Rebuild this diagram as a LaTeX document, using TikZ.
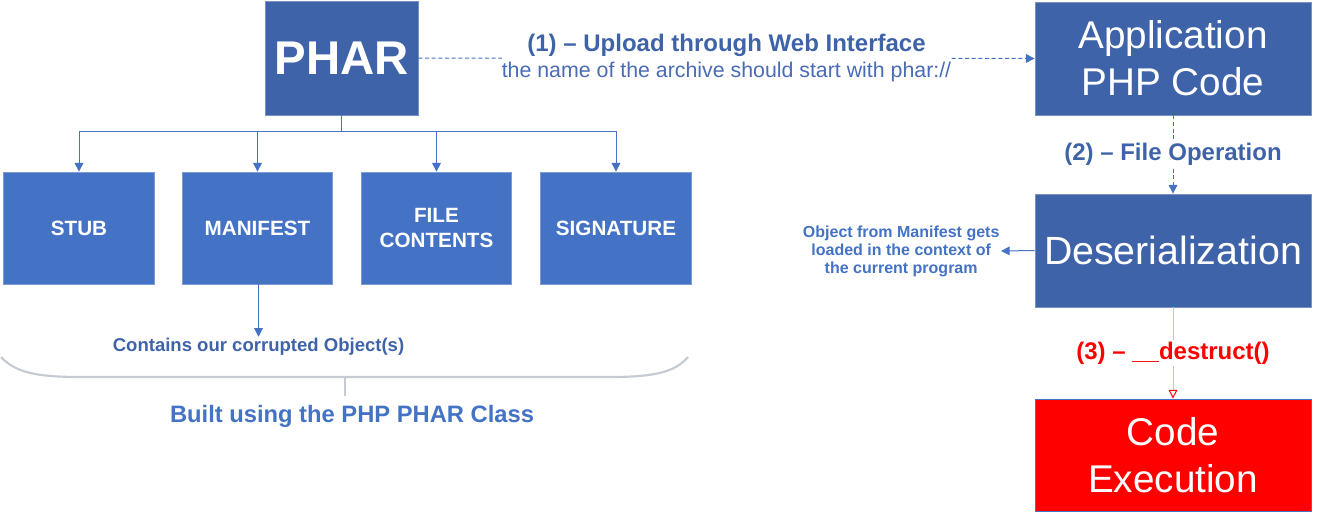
\documentclass[tikz,border=0pt]{standalone}
\usepackage{fontspec}
\setmainfont{Liberation Sans}
\usetikzlibrary{arrows.meta}
\definecolor{dkblue}{HTML}{3F63A8}
\definecolor{ltblue}{HTML}{4472C4}
\definecolor{txtblue}{HTML}{4A6CB5}
\definecolor{pinkline}{HTML}{F0B4B4}
\definecolor{bracegray}{HTML}{C6CAD2}
\definecolor{codered}{HTML}{FF0000}
\begin{document}
\begin{tikzpicture}[x=0.75pt,y=-0.75pt,
  bigbox/.style={fill=dkblue, draw=dkblue!70!white, line width=0.6pt, text=white, align=center, inner sep=0pt},
  partbox/.style={fill=ltblue, draw=ltblue!70!white, line width=0.6pt, text=white, align=center, inner sep=0pt,
    minimum width=113pt, minimum height=84pt, font=\bfseries\fontsize{15.5}{19}\selectfont},
  tip/.style={-{Triangle[width=6.5pt,length=6.5pt]}},
  conn/.style={draw=ltblue, line width=0.75pt},
  lbl/.style={align=center, inner sep=1pt}]
\useasboundingbox (0,0) rectangle (1327,521);

% main boxes
\node[bigbox, minimum width=114.75pt, minimum height=85.5pt, font=\bfseries\fontsize{35.5}{40}\selectfont] (phar) at (341.5,58) {PHAR};
\node[bigbox, minimum width=207pt, minimum height=84.75pt, font=\fontsize{29}{35}\selectfont] (app) at (1173,58.5) {Application\\PHP Code};
\node[bigbox, minimum width=207pt, minimum height=84.75pt, font=\fontsize{29.5}{35}\selectfont] (deser) at (1173,250.5) {Deserialization};
\node[bigbox, fill=codered, draw=ltblue, minimum width=207pt, minimum height=84pt, font=\fontsize{29}{35}\selectfont] (code) at (1173,455) {Code\\Execution};

% parts
\node[partbox] (stub) at (79,228) {STUB};
\node[partbox] (manifest) at (257.5,228) {MANIFEST};
\node[partbox] (filec) at (436.5,228) {FILE\\CONTENTS};
\node[partbox] (sig) at (616,228) {SIGNATURE};

% tree connectors
\coordinate (bus) at (341.5,131);
\draw[conn] (phar.south) -- (bus);
\draw[conn, tip] (bus) -| (stub.north);
\draw[conn, tip] (bus) -| (manifest.north);
\draw[conn, tip] (bus) -| (filec.north);
\draw[conn, tip] (bus) -| (sig.north);

% manifest note
\node[lbl, text=dkblue, font=\bfseries\fontsize{13.9}{16}\selectfont] (contains) at (258.5,347) {Contains our corrupted Object(s)};
\draw[conn, tip] (manifest.south -| contains.north) -- (contains.north);

% brace
\draw[bracegray, line width=1.6pt] (1,357) .. controls (15,372) and (35,377) .. (80,377) -- (610,377) .. controls (655,377) and (675,372) .. (688,357);
\coordinate (bracetip) at (345,396);
\draw[bracegray, line width=1.6pt] (345,377) -- (bracetip);
\node[lbl, text=ltblue, font=\bfseries\fontsize{17.8}{21}\selectfont] (built) at (352,416) {Built using the PHP PHAR Class};

% (1) upload
\draw[conn, dashed, dash pattern=on 3pt off 2pt, tip] (phar.east) -- (app.west)
  node[midway, fill=white, lbl, inner xsep=0pt, text=dkblue]
  {{\bfseries\fontsize{18}{22}\selectfont (1) – Upload through Web Interface}\\[3pt]
   {\fontsize{16}{20}\selectfont\color{txtblue} the name of the archive should start with phar://}};

% (2) file operation
\draw[conn, dashed, dash pattern=on 3pt off 2pt, tip] (app.south) -- (deser.north)
  node[midway, fill=white, lbl, text=dkblue, font=\bfseries\fontsize{18}{22}\selectfont] {(2) – File Operation};

% (3) destruct
\draw[pinkline, line width=0.75pt, -{Triangle[open, width=6.5pt, length=6.5pt, color=codered]}] (deser.south) -- (code.north)
  node[midway, fill=white, lbl, text=codered, font=\bfseries\fontsize{18}{22}\selectfont] {(3) – \_\_destruct()};

% object note
\node[lbl, text=ltblue, font=\bfseries\fontsize{12}{13.5}\selectfont, anchor=east] (obj) at (1001,251) {Object from Manifest gets\\loaded in the context of\\the current program};
\draw[conn, tip] (deser.west) -- (obj.east);
\end{tikzpicture}
\end{document}
